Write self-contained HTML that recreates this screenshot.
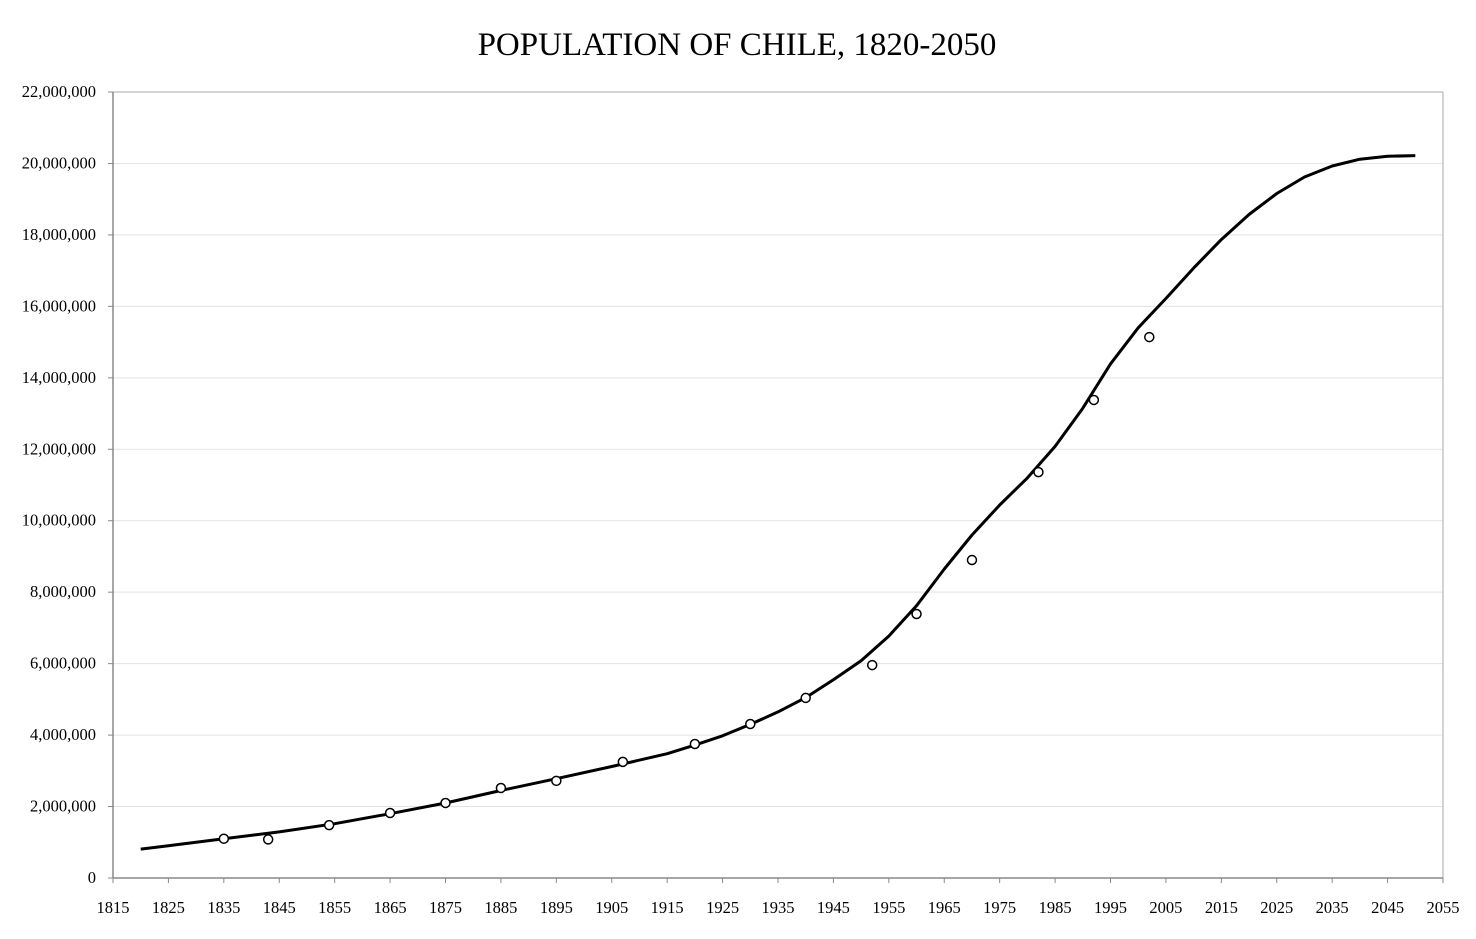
<!DOCTYPE html>
<html><head><meta charset="utf-8"><style>
body{margin:0;background:#fff;}
svg{display:block;font-family:"Liberation Serif",serif;}
</style></head><body>
<svg id="chart" width="1476" height="939">
<text x="737" y="55" text-anchor="middle" font-size="33">POPULATION OF CHILE, 1820-2050</text>
<g id="grid"></g><g id="axes"></g><g id="series"></g>
</svg>
<script>
const lineYears=[1820,1825,1835,1845,1855,1865,1875,1885,1895,1905,1915,1920,1925,1930,1935,1940,1945,1950,1955,1960,1965,1970,1975,1980,1985,1990,1995,2000,2005,2010,2015,2020,2025,2030,2035,2040,2045,2050];
const lineValues=[0.81,0.9,1.1,1.29,1.52,1.8,2.1,2.45,2.78,3.12,3.48,3.72,3.98,4.3,4.65,5.05,5.55,6.08,6.77,7.62,8.65,9.6,10.44,11.2,12.08,13.15,14.39,15.4,16.22,17.07,17.87,18.57,19.16,19.62,19.93,20.12,20.2,20.22];
const censusYears=[1835,1843,1854,1865,1875,1885,1895,1907,1920,1930,1940,1952,1960,1970,1982,1992,2002];
const censusValues=[1.1,1.08,1.48,1.82,2.1,2.52,2.72,3.25,3.75,4.31,5.04,5.96,7.39,8.9,11.36,13.38,15.14];
const xTicks=[1815,1825,1835,1845,1855,1865,1875,1885,1895,1905,1915,1925,1935,1945,1955,1965,1975,1985,1995,2005,2015,2025,2035,2045,2055];
const yTicks=[0,2,4,6,8,10,12,14,16,18,20,22];
const X0=113,X1=1443,Y0=878,Y1=92;
const xs=v=>X0+(v-1815)/240*(X1-X0);
const ys=v=>Y0-v/22*(Y0-Y1);
const NS="http://www.w3.org/2000/svg";
function mk(tag,attrs,parent,text){const e=document.createElementNS(NS,tag);for(const k in attrs)e.setAttribute(k,attrs[k]);if(text!==undefined)e.textContent=text;document.getElementById(parent).appendChild(e);return e;}
yTicks.forEach(t=>{
  const y=ys(t);
  if(t>0){const g=mk('line',{x1:X0,x2:X1,y1:y,y2:y,stroke:t==22?'#aaa':'#e3e3e3','stroke-width':1},'grid');
  
  }
  const tk=mk('line',{x1:X0-5,x2:X0,y1:y,y2:y,stroke:'#888'},'axes');
  
  
  const lb=mk('text',{x:X0-17,y:y+5,'text-anchor':'end','font-size':16.5},'axes',(t*1000000).toLocaleString('en-US'));
  
  
});
const rb=mk('line',{x1:X1,x2:X1,y1:Y1,y2:Y0,stroke:'#aaa'},'grid');


xTicks.forEach(t=>{
  const x=xs(t);
  const tk=mk('line',{x1:x,x2:x,y1:Y0,y2:Y0+5,stroke:'#888'},'axes');
  
  
  const lb=mk('text',{x:x,y:Y0+35,'text-anchor':'middle','font-size':16.5},'axes',t);
  
  
});
const ya=mk('line',{x1:X0,x2:X0,y1:Y1,y2:Y0,stroke:'#888','stroke-width':1.5},'axes');


const xa=mk('line',{x1:X0,x2:X1,y1:Y0,y2:Y0,stroke:'#888','stroke-width':1.5},'axes');


const pts=lineYears.map((y,i)=>xs(y).toFixed(1)+','+ys(lineValues[i]).toFixed(1)).join(' ');
const pl=mk('polyline',{points:pts,fill:'none',stroke:'#000','stroke-width':3,'stroke-linejoin':'round'},'series');


censusYears.forEach((y,i)=>{
  const c=mk('circle',{cx:xs(y),cy:ys(censusValues[i]),r:4.5,fill:'#fff',stroke:'#000','stroke-width':1.5},'series');
  
  
});
</script>
</body></html>
